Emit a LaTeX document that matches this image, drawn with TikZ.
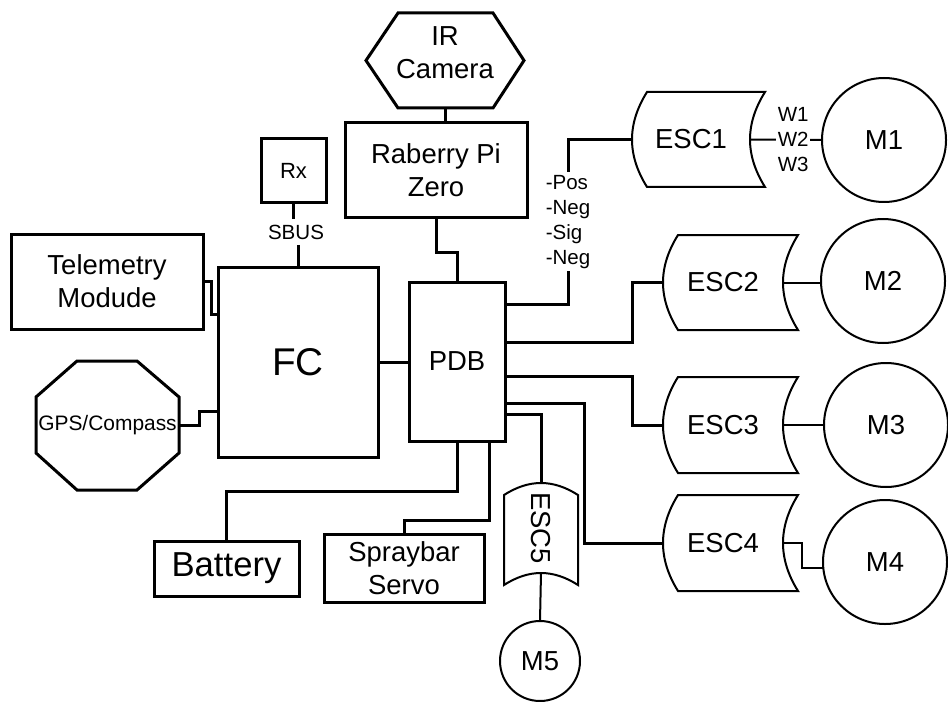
\documentclass[tikz,border=0pt]{standalone}
\usepackage{fontspec}
\setmainfont{Liberation Sans}
\newcommand\txtbig{\fontsize{20.6}{25}\selectfont}
\newcommand\txtsmall{\fontsize{15.4}{18.8}\selectfont}

\begin{document}
\begin{tikzpicture}[x=0.75pt,y=-0.75pt,
  box/.style={draw,line width=2.25pt,inner sep=0pt,outer sep=0pt,align=center,font=\txtbig},
  hold/.style={inner sep=0pt,outer sep=0pt,align=center,font=\txtbig},
  motor/.style={draw,circle,line width=1.5pt,minimum size=93pt,inner sep=0pt,outer sep=0pt,font=\txtbig},
  lbl/.style={fill=white,inner sep=1.5pt,align=center,font=\txtsmall},
  wire/.style={line width=2.25pt},
  mwire/.style={line width=1.5pt},
  outline/.style={line width=2.25pt},
  escline/.style={line width=1.5pt}]
\useasboundingbox (0,0) rectangle (948,702);
% blocks
\node[hold,minimum width=118.5pt,minimum height=71.25pt,
  label={[hold,yshift=6pt]center:IR\\Camera}] (cam) at (445,60.5) {};
\node[box,minimum width=136.5pt,minimum height=71.25pt] (pi) at (436,170.5) {Raberry Pi\\Zero};
\node[box,font=\fontsize{16.5}{20}\selectfont,minimum width=48.75pt,minimum height=48pt] (rx) at (293.5,171) {Rx};
\node[lbl,inner sep=4pt] (sbus) at (296,232) {SBUS};
\node[box,minimum width=144pt,minimum height=71.25pt] (tele) at (107,281.5) {Telemetry\\Modude};
\node[box,font=\fontsize{29}{34}\selectfont,minimum width=120pt,minimum height=142.5pt] (fc) at (298,362) {FC};
\node[hold,font=\fontsize{15.7}{19}\selectfont,minimum width=107.25pt,minimum height=96.75pt] (gps) at (107.5,425.5) {GPS/Compass};
\node[box,minimum width=72pt,minimum height=119.25pt] (pdb) at (457,361.5) {PDB};
\node[box,font=\fontsize{26}{30}\selectfont,minimum width=108.75pt,minimum height=41.25pt] (bat) at (226.5,568.5) {Battery};
\node[box,minimum width=120pt,minimum height=51pt] (spray) at (404,568) {Spraybar\\Servo};
% speed controllers
\node[hold,minimum width=88.5pt,minimum height=71.25pt] (esc1) at (691,139.5) {ESC1};
\node[hold,minimum width=90pt,minimum height=71.25pt] (esc2) at (723,282.5) {ESC2};
\node[hold,minimum width=90pt,minimum height=72pt] (esc3) at (723,425) {ESC3};
\node[hold,minimum width=90pt,minimum height=72pt] (esc4) at (723,543) {ESC4};
\node[hold,minimum width=55.5pt,minimum height=67.5pt] (esc5) at (541,528) {\rotatebox{-90}{ESC5}};
% motors
\node[motor] (m1) at (884,140) {M1};
\node[motor] (m2) at (883,281) {M2};
\node[motor] (m3) at (886,425) {M3};
\node[motor] (m4) at (885,562) {M4};
\node[motor,minimum size=60pt] (m5) at (540,661) {M5};
% outlines
\draw[outline] (cam.west) -- ([shift={(32,0)}]cam.north west) -- ([shift={(-31,0)}]cam.north east)
  -- (cam.east) -- ([shift={(-31,0)}]cam.south east) -- ([shift={(32,0)}]cam.south west) -- cycle;
\draw[outline] ([shift={(41,0)}]gps.north west) -- ([shift={(-42,0)}]gps.north east)
  -- ([shift={(0,36)}]gps.north east) -- ([shift={(0,-37)}]gps.south east)
  -- ([shift={(-42,0)}]gps.south east) -- ([shift={(41,0)}]gps.south west)
  -- ([shift={(0,-37)}]gps.south west) -- ([shift={(0,36)}]gps.north west) -- cycle;
\foreach \e in {esc1,esc2,esc3,esc4}
  \draw[escline] ([shift={(15,0)}]\e.north west) -- ([shift={(15,0)}]\e.north east)
    .. controls ([shift={(-5,32)}]\e.north east) and ([shift={(-5,-32)}]\e.south east) .. ([shift={(15,0)}]\e.south east)
    -- ([shift={(15,0)}]\e.south west)
    .. controls ([shift={(-5,-32)}]\e.south west) and ([shift={(-5,32)}]\e.north west) .. cycle;
\draw[escline] ([shift={(0,12)}]esc5.north west)
  .. controls ([shift={(25,-4)}]esc5.north west) and ([shift={(-25,-4)}]esc5.north east) .. ([shift={(0,12)}]esc5.north east)
  -- ([shift={(0,12)}]esc5.south east)
  .. controls ([shift={(-25,-4)}]esc5.south east) and ([shift={(25,-4)}]esc5.south west) .. ([shift={(0,12)}]esc5.south west)
  -- cycle;
% connections
\draw[wire] (cam.south) -- (cam.south |- pi.north);
\draw[wire] (pi.south) -- ++(0,34) -| (pdb.north);
\draw[wire] (rx.south) -- (rx.south |- sbus.north);
\draw[wire] (sbus.south -| fc.north) -- (fc.north);
\draw[wire] (tele.east) -- ++(8,0) |- ([shift={(0,47)}]fc.north west);
\draw[wire] (gps.east) -- ++(20,0) |- ([shift={(0,-46)}]fc.south west);
\draw[wire] (fc.east) -- (fc.east -| pdb.west);
\draw[wire] ([shift={(0,22)}]pdb.north east) -- ++(63,0)
  |- node[lbl,align=left,near start,inner sep=2pt] {-Pos\\-Neg\\-Sig\\-Neg} (esc1.west);
\draw[wire] ([shift={(0,60)}]pdb.north east) -- ++(127,0) |- (esc2.west);
\draw[wire] ([shift={(0,94)}]pdb.north east) -- ++(127,0) |- (esc3.west);
\draw[wire] ([shift={(0,121)}]pdb.north east) -- ++(79,0) |- (esc4.west);
\draw[wire] ([shift={(0,132)}]pdb.north east) -| (esc5.north);
\draw[wire] (pdb.south) -- ++(0,50) -| (bat.north);
\draw[wire] ([shift={(-16,0)}]pdb.south east) -- ++(0,79) -| (spray.north);
\draw[mwire] (esc1.east) -- node[lbl,pos=.6,inner sep=1pt] {W1\\W2\\W3} (m1.west);
\draw[mwire] (esc2.east) -- (esc2.east -| m2.west);
\draw[mwire] (esc3.east) -- (esc3.east -| m3.west);
\draw[mwire] (esc4.east) -- ++(19,0) |- ([shift={(0,6)}]m4.west);
\draw[mwire] (esc5.south) -- (m5.north);
\end{tikzpicture}
\end{document}
